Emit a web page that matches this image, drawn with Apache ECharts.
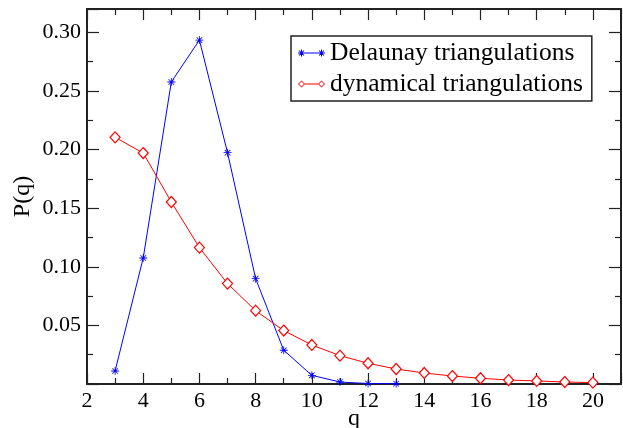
<!DOCTYPE html>
<html><head><meta charset="utf-8">
<script src="https://cdn.jsdelivr.net/npm/echarts@6/dist/echarts.min.js"></script>
<style>html,body{margin:0;padding:0;background:#fff}#c{width:623px;height:428px}</style>
</head><body><div id="c"></div>
<script>
var qValues = [3,4,5,6,7,8,9,10,11,12,13,14,15,16,17,18,19,20];
var delaunayQ = [3,4,5,6,7,8,9,10,11,12,13];
var delaunayP = [0.0111,0.1075,0.2577,0.2935,0.1974,0.0899,0.0288,0.0074,0.0017,0.0004,0.0002];
var dynamicalP = [0.2105,0.1971,0.1553,0.1164,0.0857,0.0626,0.0456,0.0333,0.0242,0.0177,0.0128,0.0094,0.0068,0.0049,0.0034,0.0026,0.0017,0.0012];
var seriesNames = ['Delaunay triangulations','dynamical triangulations'];

var FONT = '"Liberation Serif", "Times New Roman", serif';
var asterisk = 'path://M0 9L20 9L20 11L0 11Z M9 0L11 0L11 20L9 20Z M2.3 3.7L3.7 2.3L17.7 16.3L16.3 17.7Z M16.3 2.3L17.7 3.7L3.7 17.7L2.3 16.3Z';
function astAt(cx){
  var d = cx - 4;
  function X(v){ return (v + d).toFixed(2); }
  return 'M'+X(0.5)+' 3.5L'+X(7.5)+' 3.5L'+X(7.5)+' 4.5L'+X(0.5)+' 4.5Z' +
         'M'+X(3.5)+' 0.5L'+X(4.5)+' 0.5L'+X(4.5)+' 7.5L'+X(3.5)+' 7.5Z' +
         'M'+X(1.15)+' 1.85L'+X(1.85)+' 1.15L'+X(6.85)+' 6.15L'+X(6.15)+' 6.85Z' +
         'M'+X(6.15)+' 1.15L'+X(6.85)+' 1.85L'+X(1.85)+' 6.85L'+X(1.15)+' 6.15Z';
}
function diaAt(cx){
  var d = cx - 4;
  function X(v){ return (v + d).toFixed(2); }
  return 'M'+X(4)+' 0.5L'+X(7.5)+' 4L'+X(4)+' 7.5L'+X(0.5)+' 4Z' +
         'M'+X(4)+' 1.6L'+X(1.6)+' 4L'+X(4)+' 6.4L'+X(6.4)+' 4Z';
}
var iconDelaunay = 'path://M3 3.5L25 3.5L25 4.5L3 4.5Z' + astAt(4) + astAt(24);
var iconDynamical = 'path://M7.3 3.5L20.7 3.5L20.7 4.5L7.3 4.5Z' + diaAt(4) + diaAt(24);
var axisCol = '#222';

function pairs(xs, ys){ return xs.map(function(x,i){return [x, ys[i]];}); }

var chart = echarts.init(document.getElementById('c'), null, {renderer:'canvas'});
var xBase = {
  type:'value', min:2, max:21, interval:2,
  axisLine:{show:true, onZero:false, lineStyle:{color:axisCol, width:2}},
  axisTick:{show:true, inside:true, length:11, lineStyle:{color:axisCol, width:1.2}},
  minorTick:{show:true, splitNumber:2, length:6, lineStyle:{color:axisCol, width:1.2}},
  splitLine:{show:false}
};
var yBase = {
  type:'value', min:0, max:0.32, interval:0.05,
  axisLine:{show:true, onZero:false, lineStyle:{color:axisCol, width:2}},
  axisTick:{show:true, inside:true, length:12, lineStyle:{color:axisCol, width:1.2}},
  minorTick:{show:true, splitNumber:2, length:6, lineStyle:{color:axisCol, width:1.2}},
  splitLine:{show:false}
};
chart.setOption({
  animation:false,
  backgroundColor:'#fff',
  grid:{left:87, right:2, top:9, bottom:44, outerBoundsMode:'none', containLabel:false},
  legend:{
    orient:'vertical', left:291, top:36,
    data:[
      {name:seriesNames[0], icon:iconDelaunay, itemStyle:{color:'#0000ff', borderWidth:0, borderColor:'transparent'}},
      {name:seriesNames[1], icon:iconDynamical, itemStyle:{color:'#ff0000', borderWidth:0, borderColor:'transparent'}}
    ],
    borderColor:axisCol, borderWidth:1.5, borderRadius:0,
    padding:[4,9,4,7], itemGap:5, itemWidth:27, itemHeight:7,
    textStyle:{fontFamily:FONT, fontSize:25.5, color:'#000', lineHeight:25}
  },
  xAxis:[
    Object.assign({}, xBase, {
      position:'bottom',
      name:'q', nameLocation:'middle', nameGap:23, nameMoveOverlap:false,
      nameTextStyle:{fontFamily:FONT, fontSize:24, color:'#000'},
      axisLabel:{show:true, margin:6, fontFamily:FONT, fontSize:22, color:'#000', showMaxLabel:false,
        formatter:function(v){return v>20?'':String(v);}}
    }),
    Object.assign({}, xBase, {position:'top', axisLabel:{show:false}})
  ],
  yAxis:[
    Object.assign({}, yBase, {
      position:'left',
      name:'P(q)', nameLocation:'middle', nameGap:52, nameMoveOverlap:false,
      nameTextStyle:{fontFamily:FONT, fontSize:24, color:'#000'},
      axisLabel:{show:true, margin:6, fontFamily:FONT, fontSize:22, color:'#000',
        formatter:function(v){return (v<0.001||v>0.301)?'':v.toFixed(2);}}
    }),
    Object.assign({}, yBase, {position:'right', axisLabel:{show:false}})
  ],
  series:[
    {name:seriesNames[0], type:'line', data:pairs(delaunayQ, delaunayP),
     symbol:asterisk, symbolSize:8, showAllSymbol:true,
     lineStyle:{color:'#0000ff', width:1}, itemStyle:{color:'#0000ff'}},
    {name:seriesNames[1], type:'line', data:pairs(qValues, dynamicalP),
     symbol:'diamond', symbolSize:[10,11], showAllSymbol:true,
     lineStyle:{color:'#ff0000', width:1}, itemStyle:{color:'#fff', borderColor:'#ff0000', borderWidth:1.2}}
  ]
});
</script></body></html>
